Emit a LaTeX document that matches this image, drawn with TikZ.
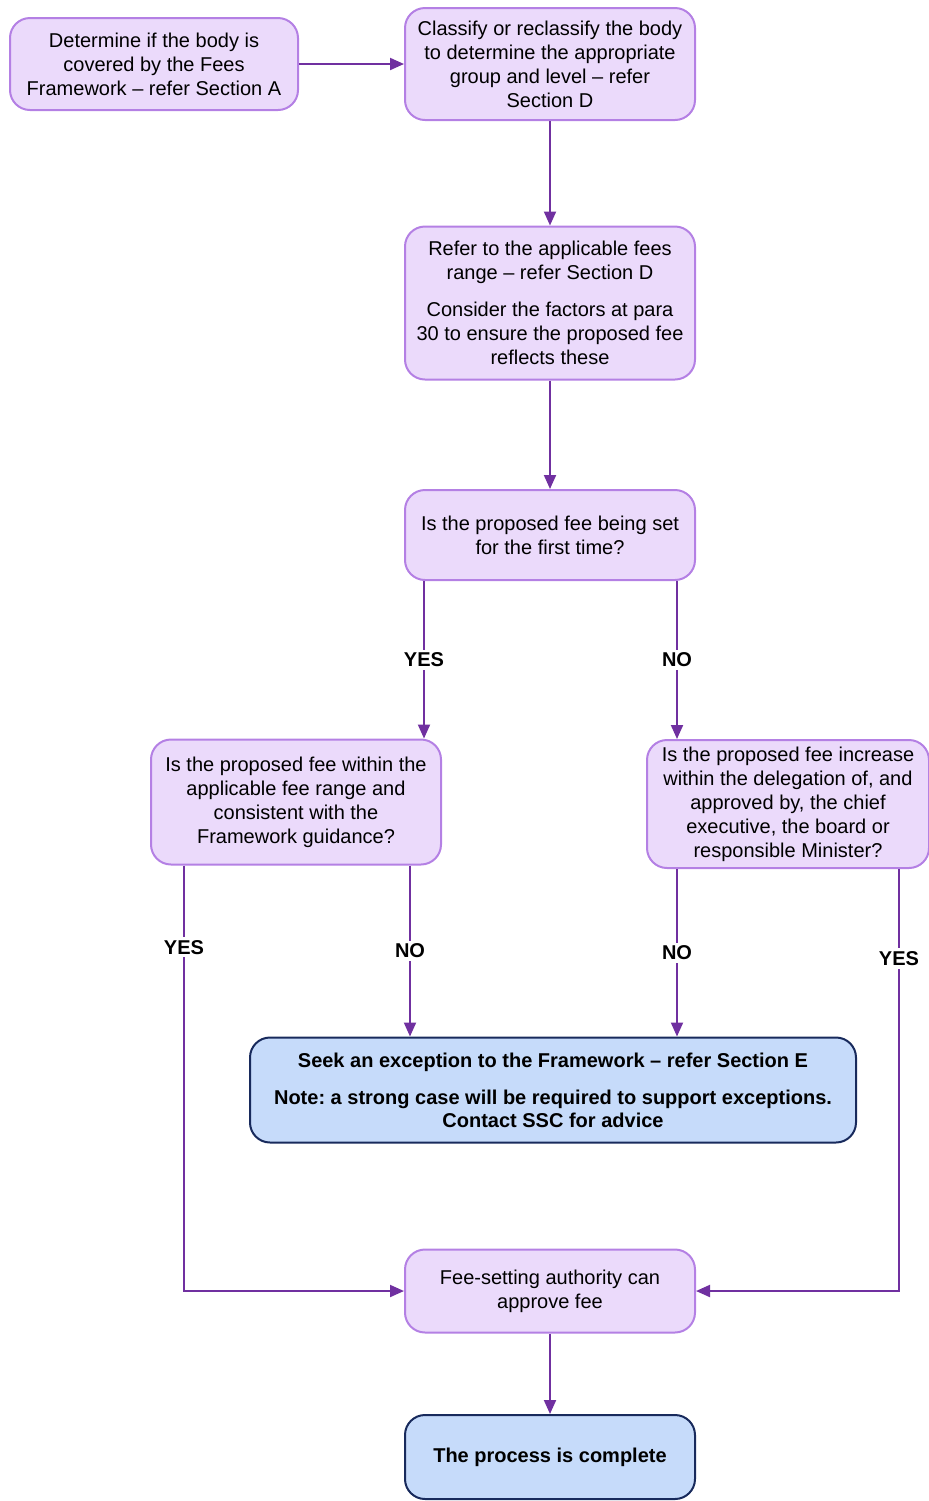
\documentclass[tikz,border=0pt]{standalone}
\usepackage{fontspec}
\setmainfont{Liberation Sans}
\usetikzlibrary{arrows.meta}
\usetikzlibrary{positioning}

\definecolor{boxfill}{RGB}{235,218,251}
\definecolor{boxline}{RGB}{180,128,228}
\definecolor{flowline}{RGB}{112,48,160}
\definecolor{endfill}{RGB}{198,219,250}
\definecolor{endline}{RGB}{24,42,92}

\frenchspacing

\begin{document}
\begin{tikzpicture}[
    x=0.5pt, y=-0.5pt,
    every node/.style={align=center, font=\fontsize{10}{12}\selectfont},
    stepbox/.style={draw=boxline, fill=boxfill, line width=1pt, rounded corners=10pt, minimum width=145pt, inner sep=2pt},
    endbox/.style={draw=endline, fill=endfill, line width=1pt, rounded corners=10pt, inner sep=2pt, font=\bfseries\fontsize{10}{11.5}\selectfont},
    flow/.style={draw=flowline, line width=1pt, -{Triangle[length=7pt,width=6pt]}},
    answer/.style={fill=white, inner sep=1.5pt, font=\bfseries\fontsize{10}{12}\selectfont}
]
    \useasboundingbox (0,0) rectangle (929,1501);

    % Top row
    \node[stepbox, minimum width=144pt, minimum height=46pt] (cover) at (154,64)
        {Determine if the body is\\ covered by the Fees\\ Framework -- refer Section A};
    \node[stepbox, minimum height=56pt] (classify) at (550,64)
        {Classify or reclassify the body\\ to determine the appropriate\\ group and level -- refer\\ Section D};

    % Fee range
    \node[stepbox, minimum height=76.5pt] (range) at (550,303)
        {Refer to the applicable fees\\ range -- refer Section D\\[6.5pt]
         Consider the factors at para\\ 30 to ensure the proposed fee\\ reflects these};

    % First question
    \node[stepbox, minimum height=45pt] (first) at (550,535)
        {Is the proposed fee being set\\ for the first time?};

    % Second level questions
    \node[stepbox, minimum height=62.5pt] (within) at (296,802)
        {Is the proposed fee within the\\ applicable fee range and\\ consistent with the\\ Framework guidance?};
    \node[stepbox, minimum width=141pt, minimum height=64pt] (increase) at (788,804)
        {Is the proposed fee increase\\ within the delegation of, and\\ approved by, the chief\\ executive, the board or\\ responsible Minister?};

    % Exception
    \node[endbox, minimum width=303pt, minimum height=52.5pt] (exception) at (553,1090)
        {Seek an exception to the Framework -- refer Section E\\[7pt]
         Note: a strong case will be required to support exceptions.\\ Contact SSC for advice};

    % Approve and finish
    \node[stepbox, minimum height=41.5pt] (approve) at (550,1291)
        {Fee-setting authority can\\ approve fee};
    \node[endbox, minimum width=145pt, minimum height=42pt] (done) at (550,1457)
        {The process is complete};

    % x positions of the branch lines
    \coordinate (firstyes) at (424,0);
    \coordinate (firstno) at (677,0);
    \coordinate (withinyes) at (184,0);
    \coordinate (withinno) at (410,0);
    \coordinate (increaseno) at (677,0);
    \coordinate (increaseyes) at (899,0);

    \draw[flow] (cover) -- (classify);
    \draw[flow] (classify) -- (range);
    \draw[flow] (range) -- (first);

    \draw[flow] (first.south -| firstyes) -- node[answer] {YES} (within.north -| firstyes);
    \draw[flow] (first.south -| firstno) -- node[answer] {NO} (increase.north -| firstno);

    \draw[flow] (within.south -| withinyes) |- node[answer, pos=0.096] {YES} (approve.west);
    \draw[flow] (within.south -| withinno) -- node[answer] {NO} (exception.north -| withinno);

    \draw[flow] (increase.south -| increaseno) -- node[answer] {NO} (exception.north -| increaseno);
    \draw[flow] (increase.south -| increaseyes) |- node[answer, pos=0.106] {YES} (approve.east);

    \draw[flow] (approve) -- (done);

\end{tikzpicture}
\end{document}
